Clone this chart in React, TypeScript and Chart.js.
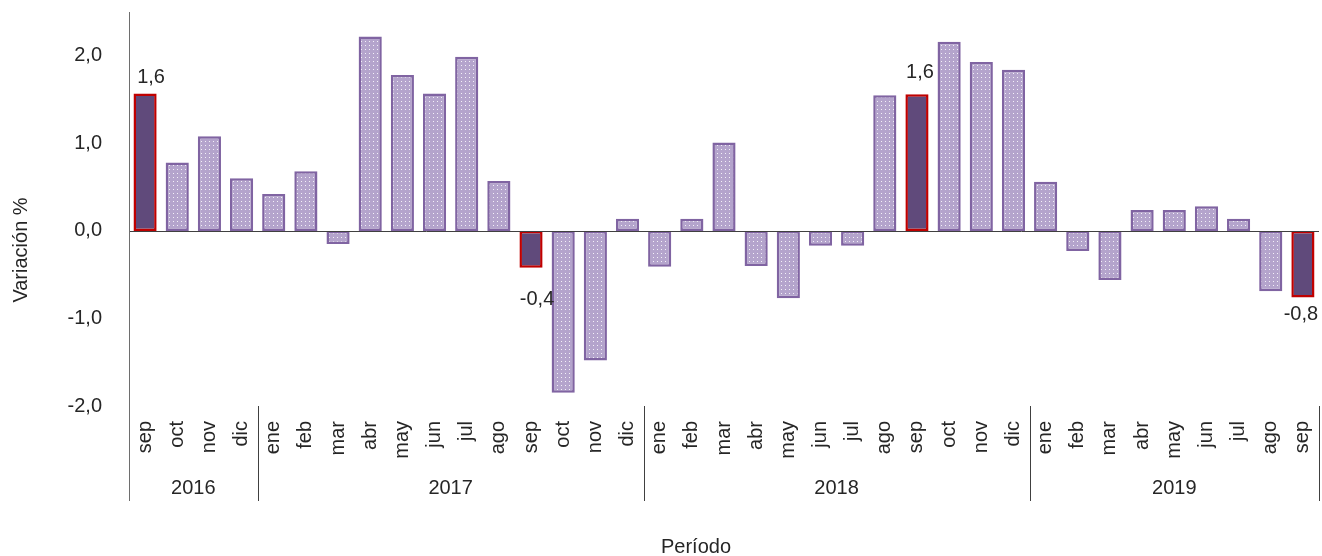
import React, { useEffect, useRef } from 'react';
import { Chart, registerables } from 'chart.js';

Chart.register(...registerables);

const MONTHS = [
  'sep', 'oct', 'nov', 'dic',
  'ene', 'feb', 'mar', 'abr', 'may', 'jun', 'jul', 'ago', 'sep', 'oct', 'nov', 'dic',
  'ene', 'feb', 'mar', 'abr', 'may', 'jun', 'jul', 'ago', 'sep', 'oct', 'nov', 'dic',
  'ene', 'feb', 'mar', 'abr', 'may', 'jun', 'jul', 'ago', 'sep',
];
const YEARS = ['2016', '2017', '2018', '2019'];
const YEAR_MONTH_COUNTS = [4, 12, 12, 9];
const VALUES = [
  1.57, 0.78, 1.08, 0.6,
  0.42, 0.68, -0.15, 2.22, 1.78, 1.57, 1.99, 0.57, -0.42, -1.85, -1.48, 0.14,
  -0.41, 0.14, 1.01, -0.4, -0.77, -0.17, -0.17, 1.55, 1.56, 2.16, 1.93, 1.84,
  0.56, -0.23, -0.56, 0.24, 0.24, 0.28, 0.14, -0.69, -0.76,
];
const HIGHLIGHTED = [0, 12, 24, 36];
const Y_TICKS = [-2, -1, 0, 1, 2];
const Y_MIN = -2;
const Y_MAX = 2.5;
const Y_TITLE = 'Variación %';
const X_TITLE = 'Período';

// style: label offsets (dx, dy) from the bar end for highlighted bars
const LABEL_OFFSETS: [number, number][] = [[6, -16], [6, 32], [3, -22], [-2, 17]];

const FONT = '"Liberation Sans", Arial, sans-serif';
const TEXT = '#262626';

const fmt = (v: number) => v.toFixed(1).replace('.', ',');

function makePattern(): CanvasPattern | string {
  const c = document.createElement('canvas');
  c.width = 4;
  c.height = 4;
  const g = c.getContext('2d');
  if (!g) return '#b3a2c7';
  g.fillStyle = '#b4a4cc';
  g.fillRect(0, 0, 4, 4);
  g.fillStyle = '#f4f1f8';
  g.fillRect(1, 1, 1, 1);
  const p = g.createPattern(c, 'repeat');
  return p || '#b3a2c7';
}

export default function App() {
  const ref = useRef<HTMLCanvasElement>(null);

  useEffect(() => {
    document.body.style.margin = '0';
    const canvas = ref.current;
    if (!canvas) return;
    const pattern = makePattern();

    const bg = VALUES.map((_, i) => (HIGHLIGHTED.includes(i) ? '#604a7b' : pattern));
    const bc = VALUES.map((_, i) => (HIGHLIGHTED.includes(i) ? '#c00000' : '#8064a2'));

    const deco = {
      id: 'deco',
      afterDatasetsDraw(chart: any) {
        const { ctx, chartArea, scales } = chart;
        const x = scales.x;
        const y = scales.y;
        ctx.save();
        // zero line
        const y0 = Math.round(y.getPixelForValue(0)) + 0.5;
        ctx.strokeStyle = '#404040';
        ctx.lineWidth = 1;
        ctx.beginPath();
        ctx.moveTo(chartArea.left, y0);
        ctx.lineTo(chartArea.right, y0);
        ctx.stroke();

        const bottomLine = chartArea.bottom + 95;
        // left axis line
        const lx = Math.round(chartArea.left) + 0.5;
        ctx.strokeStyle = '#6e6e6e';
        ctx.beginPath();
        ctx.moveTo(lx, chartArea.top);
        ctx.lineTo(lx, bottomLine);
        ctx.stroke();

        // year separators & labels
        ctx.strokeStyle = '#404040';
        ctx.fillStyle = TEXT;
        ctx.font = `20px ${FONT}`;
        ctx.textAlign = 'center';
        ctx.textBaseline = 'middle';
        let start = 0;
        YEARS.forEach((yr, k) => {
          const end = start + YEAR_MONTH_COUNTS[k] - 1;
          const cx = (x.getPixelForValue(start) + x.getPixelForValue(end)) / 2;
          ctx.fillText(yr, cx, chartArea.bottom + 82);
          let sx: number;
          if (end + 1 < MONTHS.length) {
            sx = (x.getPixelForValue(end) + x.getPixelForValue(end + 1)) / 2;
          } else {
            sx = chartArea.right;
          }
          sx = Math.round(sx) + 0.5;
          ctx.beginPath();
          ctx.moveTo(sx, chartArea.bottom);
          ctx.lineTo(sx, bottomLine);
          ctx.stroke();
          start = end + 1;
        });

        // data labels
        const meta = chart.getDatasetMeta(0);
        HIGHLIGHTED.forEach((idx, k) => {
          const el = meta.data[idx];
          const [dx, dy] = LABEL_OFFSETS[k];
          ctx.fillText(fmt(VALUES[idx]), el.x + dx, el.y + dy);
        });

        // axis titles
        ctx.fillText(X_TITLE, 696, chartArea.bottom + 141);
        ctx.translate(21, 250);
        ctx.rotate(-Math.PI / 2);
        ctx.fillText(Y_TITLE, 0, 0);
        ctx.restore();
      },
    };

    const chart = new Chart(canvas, {
      type: 'bar',
      data: {
        labels: MONTHS,
        datasets: [
          {
            data: VALUES,
            backgroundColor: bg as any,
            borderColor: bc,
            borderWidth: 2.5,
            borderSkipped: false,
            barPercentage: 0.72,
            categoryPercentage: 1,
          },
        ],
      },
      options: {
        responsive: false,
        animation: false,
        layout: { padding: { left: 0, right: 3, top: 12, bottom: 0 } },
        plugins: {
          legend: { display: false },
          tooltip: { enabled: false },
          title: { display: false },
        },
        scales: {
          x: {
            grid: { display: false },
            border: { display: false },
            ticks: {
              autoSkip: false,
              minRotation: 90,
              maxRotation: 90,
              padding: 7,
              color: TEXT,
              font: { family: FONT, size: 20 },
            },
            afterFit: (s: any) => {
              s.height = 150;
              s.paddingLeft = 0;
              s.paddingRight = 0;
            },
          },
          y: {
            min: Y_MIN,
            max: Y_MAX,
            grid: { display: false },
            border: { display: false },
            afterBuildTicks: (s: any) => {
              s.ticks = Y_TICKS.map((v) => ({ value: v }));
            },
            ticks: {
              padding: 19,
              color: TEXT,
              font: { family: FONT, size: 20 },
              callback: (v: any) => fmt(Number(v)),
            },
            afterFit: (s: any) => {
              s.width = 129;
              s.paddingTop = 0;
              s.paddingBottom = 0;
            },
          },
        },
      },
      plugins: [deco],
    });

    return () => chart.destroy();
  }, []);

  return (
    <div style={{ width: 1322, height: 556 }}>
      <canvas ref={ref} width={1322} height={556} style={{ display: 'block' }} />
    </div>
  );
}
